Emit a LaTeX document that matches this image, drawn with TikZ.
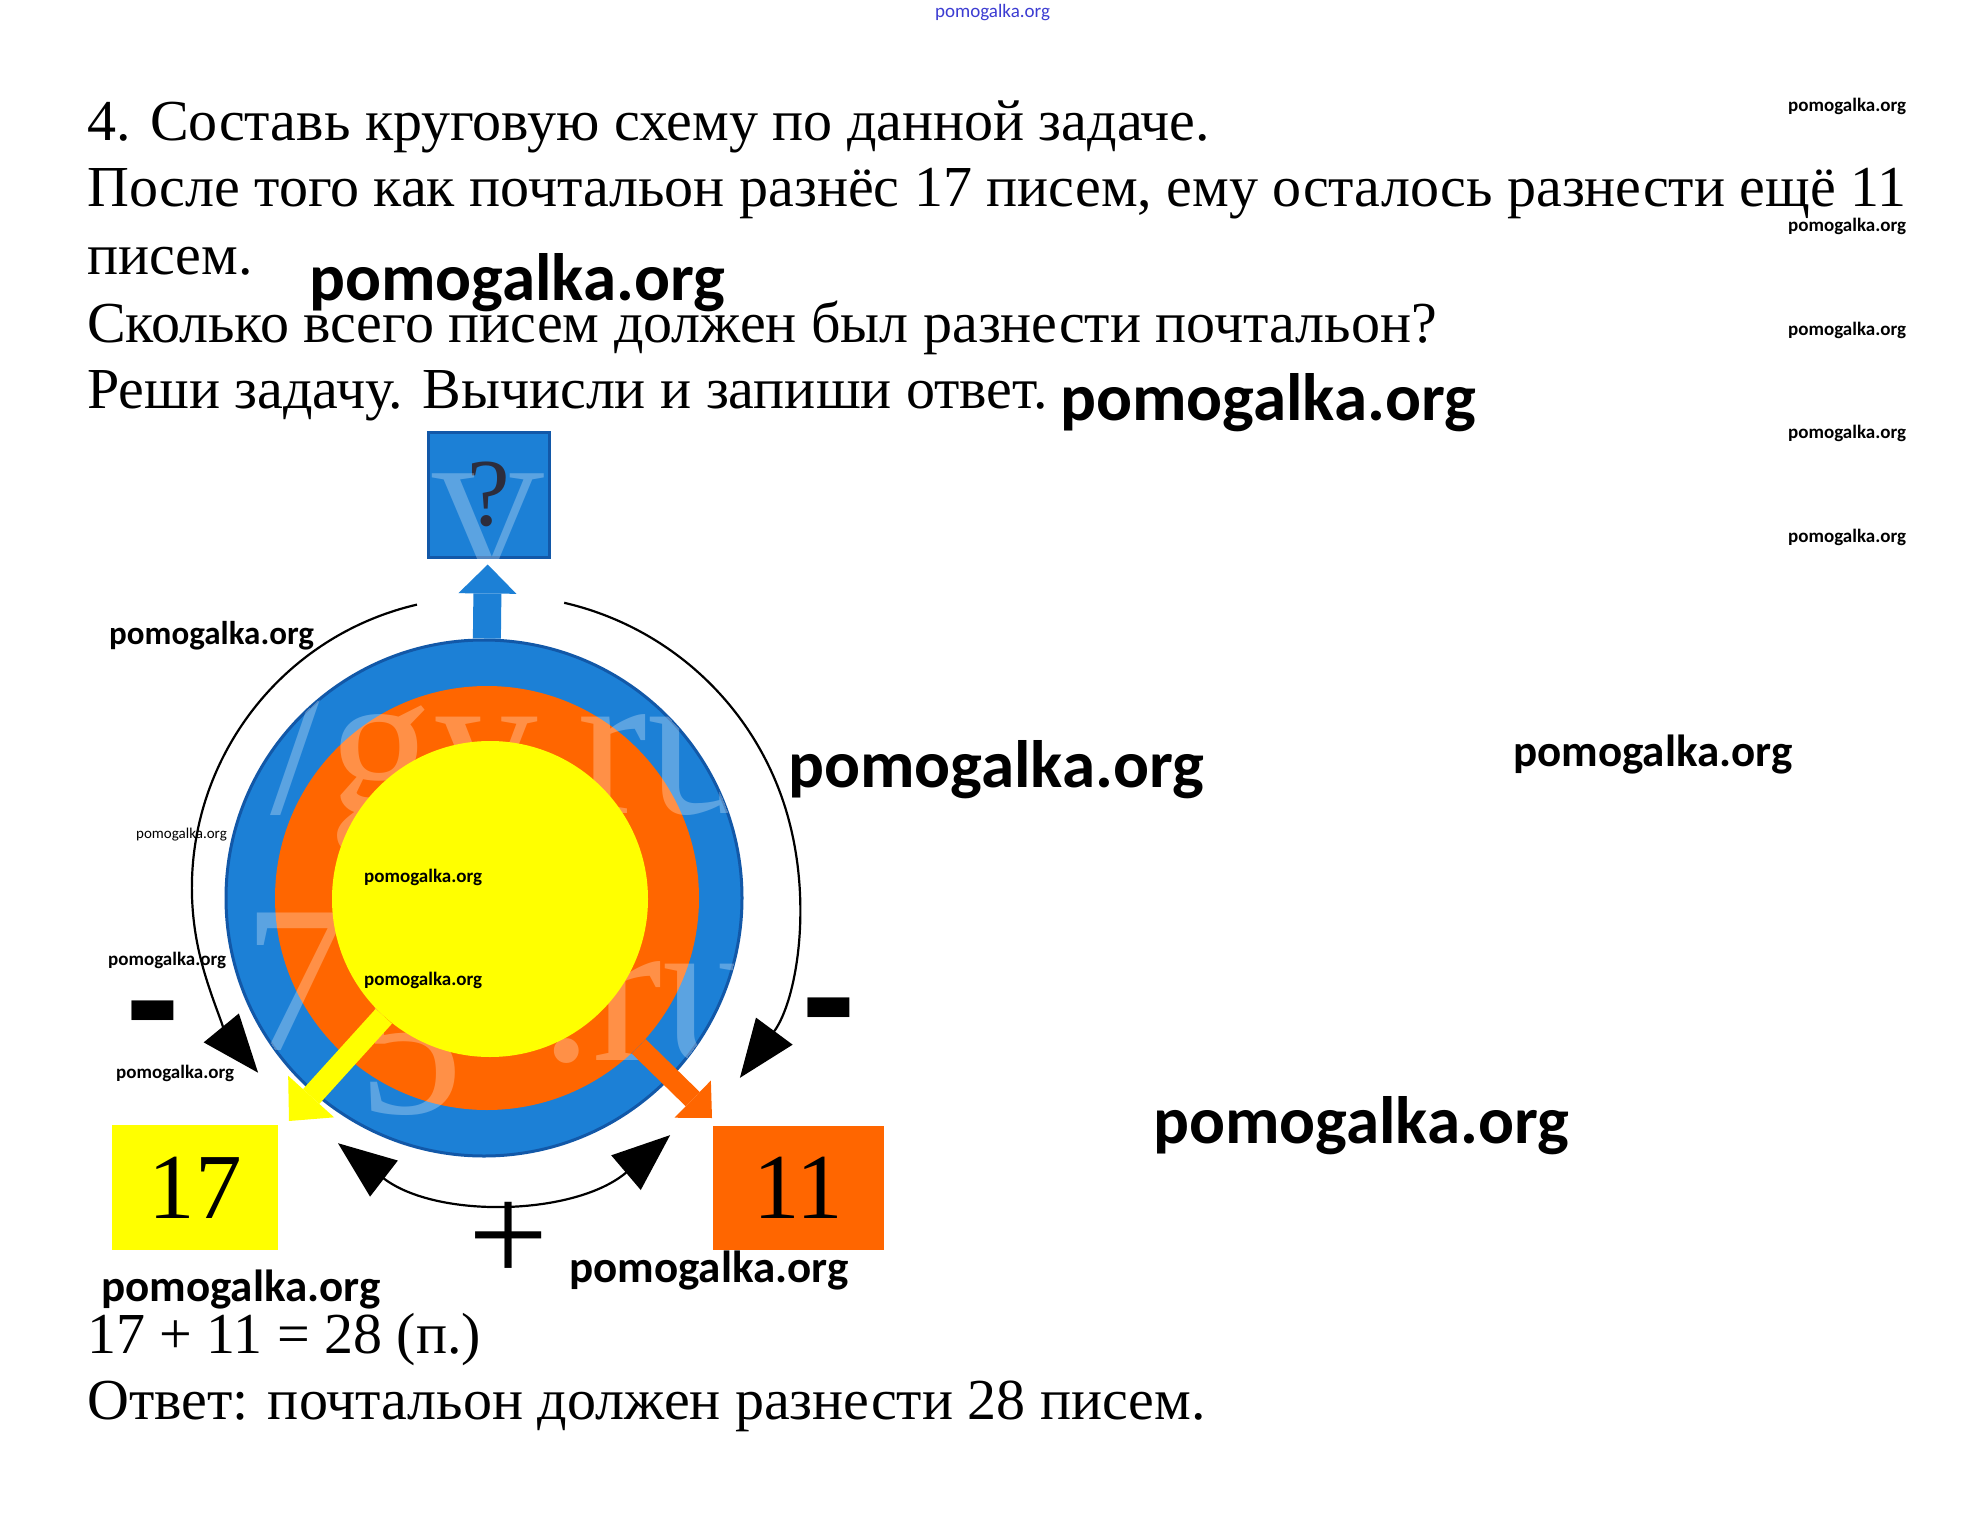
\documentclass[tikz,border=0pt]{standalone}
\usepackage{fontspec}
\setmainfont{Liberation Serif}
\newfontfamily\wmfont{Carlito}
\newfontfamily\signfont{Liberation Sans}
\usetikzlibrary{arrows.meta}
\definecolor{diskblue}{RGB}{28,128,214}
\definecolor{diskedge}{RGB}{18,88,168}
\definecolor{ringorange}{RGB}{255,102,0}
\definecolor{coreyellow}{RGB}{255,255,0}
\definecolor{qmark}{RGB}{45,45,60}
\definecolor{wmblue}{RGB}{60,60,210}
\tikzstyle{taskline}=[anchor=base west, inner sep=0pt, font=\fontsize{58}{67}\selectfont]
\tikzstyle{wmark}=[anchor=base west, inner sep=0pt]
\tikzstyle{numbox}=[rectangle, inner sep=0pt, font=\fontsize{93}{93}\selectfont]
\tikzstyle{arcline}=[line width=2.2pt, black]
\tikzstyle{ghost}=[anchor=base west, inner sep=0pt, text=white, text opacity=0.28, font=\fontsize{210}{210}\selectfont]
\tikzstyle{signtext}=[anchor=base, inner sep=0pt, font=\signfont\bfseries\fontsize{165}{165}\selectfont]
\tikzstyle{bluearrow}=[color=diskblue, line width=28pt, -{Triangle[length=29pt,width=58pt,line width=0pt]}]
\tikzstyle{yellowarrow}=[color=coreyellow, line width=22pt, -{Triangle[length=33pt,width=62pt,line width=0pt]}]
\tikzstyle{orangearrow}=[color=ringorange, line width=20pt, -{Triangle[length=27pt,width=52pt,line width=0pt]}]
\newcommand{\textline}[3]{
	\node[taskline] (#1) at (#2) {#3};}
\newcommand{\pomo}[3]{
	\node[wmark] (#1) at (#2) {\wmfont\bfseries\fontsize{#3}{#3}\selectfont pomogalka.org};}
\newcommand{\pomolight}[3]{
	\node[wmark] (#1) at (#2) {\wmfont\fontsize{#3}{#3}\selectfont pomogalka.org};}

\begin{document}
\begin{tikzpicture}[x=1pt, y=-1pt, >={Triangle[length=58pt,width=45pt]}]
\useasboundingbox (0,0) rectangle (1987,1525);
\fill[white] (0,0) rectangle (1987,1525);
% task
\textline{t1}{87,141}{4. Составь круговую схему по данной задаче.}
\textline{t2}{87,207}{После того как почтальон разнёс 17 писем, ему осталось разнести ещё 11}
\textline{t3}{87,274}{писем.}
\textline{t4}{87,342}{Сколько всего писем должен был разнести почтальон?}
\textline{t5}{87,408}{Реши задачу. Вычисли и запиши ответ.}
% circle scheme
\node[circle, fill=diskblue, draw=diskedge, line width=3pt, minimum size=516pt, inner sep=0pt] (disk) at (484,898) {};
\node[circle, fill=ringorange, minimum size=424pt, inner sep=0pt] (ring) at (487,898) {};
\begin{scope}
\clip (484,898) circle[radius=258];
\node[ghost] (g1) at (270,813) {/gy.ru};
\node[ghost] (g2) at (243,1050) {7};
\node[ghost] (g3) at (358,1113) {5};
\node[ghost] (g4) at (540,1060) {.ru};
\end{scope}
\node[circle, fill=coreyellow, minimum size=316pt, inner sep=0pt] (core) at (490,899) {};
% boxes
\node[numbox, fill=diskblue, draw=diskedge, line width=3pt, minimum width=121pt, minimum height=125pt, text=qmark, font=\fontsize{96}{96}\selectfont] (qbox) at (488.5,494.5) {?};
\begin{scope}
\clip (qbox.south west) rectangle (qbox.north east);
\node[ghost, font=\fontsize{160}{160}\selectfont] (gv) at (430,578) {V};
\end{scope}
\node[numbox, fill=coreyellow, minimum width=166pt, minimum height=125pt] (box17) at (195,1187.5) {17};
\node[numbox, fill=ringorange, minimum width=171pt, minimum height=124pt] (box11) at (798.5,1188) {11};
% thick arrows
\coordinate (tip17) at (289,1121);
\coordinate (tip11) at (712,1118);
\path[yellowarrow] (core) edge (tip17);
\path[orangearrow] (ring) edge (tip11);
\path[bluearrow, shorten >=6pt] (disk) edge (qbox);
% arcs
\coordinate (la) at (417,604.6);
\coordinate (ra) at (564.2,602.8);
\coordinate (ba) at (338,1143.2);
\draw[arcline, ->] (la) arc[start angle=-103.1, end angle=-219.4, radius=291];
\draw[arcline, ->] (ra) arc[start angle=-77, end angle=36.4, radius=303];
\draw[arcline, <->] (ba) arc[start angle=127.6, end angle=49.6, radius=264];
\node[signtext] (minusl) at (153,1053) {-};
\node[signtext] (minusr) at (829,1050) {-};
\node[anchor=base, inner sep=0pt, font=\fontsize{142}{142}\selectfont] (plus) at (509,1282) {+};
% answer
\textline{a1}{87,1353}{17 + 11 = 28 (п.)}
\textline{a2}{87,1419}{Ответ: почтальон должен разнести 28 писем.}
% watermarks
\node[wmark, text=wmblue] (wtop) at (935,18) {\wmfont\fontsize{19}{19}\selectfont pomogalka.org};
\pomo{w1}{309,300}{67}
\pomo{w2}{1060,420}{67}
\pomo{w3}{788,787}{67}
\pomo{w4}{1513,766}{45}
\pomo{w5}{1153,1143}{67}
\pomo{w6}{109,644}{33}
\pomo{w7}{101,1301}{45}
\pomo{w8}{569,1282}{45}
\pomolight{w9}{136,838}{15}
\pomo{w10}{108,965}{19}
\pomo{w11}{116,1078}{19}
\pomo{w12}{364,882}{19}
\pomo{w13}{364,985}{19}
\foreach \wy in {112,232,335,438,542}
	{\pomo{wr\wy}{1788,\wy}{19}}
\end{tikzpicture}
\end{document}
